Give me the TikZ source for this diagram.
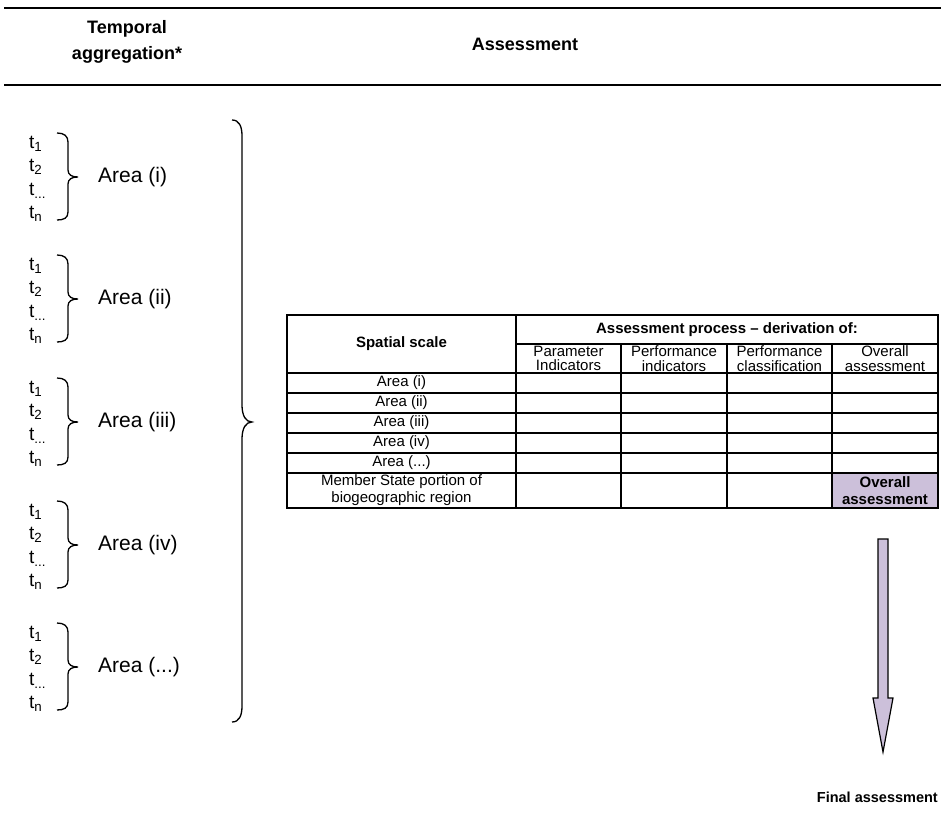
\documentclass[tikz,border=0pt]{standalone}
\usepackage{fontspec}
\setmainfont{Liberation Sans}
\definecolor{lilac}{RGB}{204,192,218}
\newcommand{\areadots}{...}

\begin{document}
\begin{tikzpicture}[x=1pt,y=-1pt,
  rule/.style={line width=2.2pt},
  grid/.style={line width=1.3pt},
  bracestroke/.style={line width=1.3pt},
  title/.style={font=\fontsize{18}{26}\selectfont\bfseries, align=center, inner sep=0pt},
  tlab/.style={font=\fontsize{19}{22}\selectfont, anchor=west, inner sep=0pt},
  arealab/.style={font=\fontsize{21}{22}\selectfont, anchor=west, inner sep=0pt},
  cell/.style={font=\fontsize{15}{14.5}\selectfont, align=center, inner sep=0pt},
  headcell/.style={font=\fontsize{15}{17}\selectfont\bfseries, align=center, inner sep=0pt}]
\useasboundingbox (0,0) rectangle (941,832);
\draw[rule] (4,8) -- (941,8);
\draw[rule] (4,85) -- (941,85);
\node[title] (temporal) at (127,42) {Temporal\\aggregation*};
\node[title] (assess) at (525,44) {Assessment};

\foreach \c/\lab [count=\i] in {177/(i),299/(ii),422/(iii),545/(iv),667/(\areadots)} {
  \node[tlab] (ta\i) at (29,\c-33) {t\textsubscript{1}};
  \node[tlab] (tb\i) at (29,\c-10) {t\textsubscript{2}};
  \node[tlab] (tc\i) at (29,\c+14) {t\textsubscript{\areadots}};
  \node[tlab] (td\i) at (29,\c+37) {t\textsubscript{n}};
  \draw[bracestroke] (57,\c-44) .. controls (64,\c-44) and (68,\c-41) .. (68,\c-35) -- (68,\c-7) .. controls (68,\c-2) and (72,\c) .. (78,\c) .. controls (72,\c) and (68,\c+2) .. (68,\c+7) -- (68,\c+35) .. controls (68,\c+41) and (64,\c+43) .. (57,\c+43);
  \node[arealab] (area\i) at (98,\c) {Area \lab};
  \node[cell] (row\i) at (401.5,363+20*\i) {Area \lab};
}
\draw[bracestroke] (232,120) .. controls (239,120) and (242,126) .. (242,136) -- (242,405) .. controls (242,416) and (246,422) .. (252,422) .. controls (246,422) and (242,428) .. (242,439) -- (242,706) .. controls (242,716) and (239,722) .. (232,722);

\fill[lilac] (832,473) rectangle (938,508);
\draw[grid] (287,315) rectangle (938,508);
\draw[grid] (516,344) -- (938,344);
\foreach \y in {373,393,413,433,453,473}
  \draw[grid] (287,\y) -- (938,\y);
\draw[grid] (516,315) -- (516,508);
\foreach \x in {621,727,832}
  \draw[grid] (\x,344) -- (\x,508);

\node[headcell] (process) at (727,329.5) {Assessment process -- derivation of:};
\node[headcell] (spatial) at (401.5,344) {Spatial scale};
\node[cell] (param) at (568.5,358.5) {Parameter\\Indicators};
\node[cell] (perfind) at (674,358.5) {Performance\\indicators};
\node[cell] (perfcls) at (779.5,358.5) {Performance\\classification};
\node[cell] (overall) at (885,358.5) {Overall\\assessment};
\node[cell, font=\fontsize{15}{17}\selectfont] (member) at (401.5,490.5) {Member State portion of\\biogeographic region};
\node[headcell] (overallms) at (885,490.5) {Overall\\assessment};

\draw[line width=1.2pt, fill=lilac, line join=miter] (878,539) -- (888,539) -- (888,698) -- (893,698) -- (883,752) -- (873,698) -- (878,698) -- cycle;
\node[headcell, font=\fontsize{14.5}{17}\selectfont\bfseries, anchor=east] (final) at (938,797) {Final assessment};
\end{tikzpicture}
\end{document}
